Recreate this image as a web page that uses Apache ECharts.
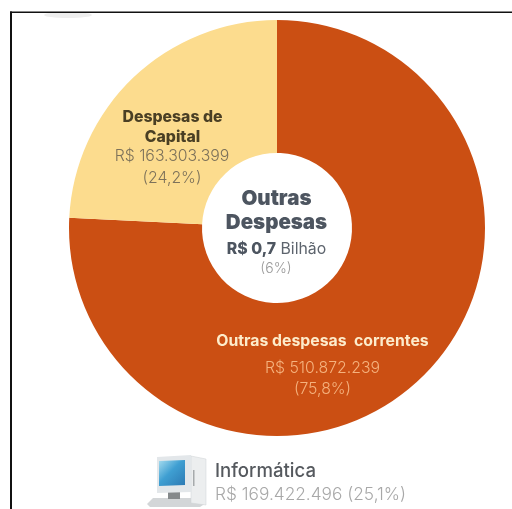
<!DOCTYPE html>
<html>
<head>
<meta charset="utf-8">
<style>
html,body{margin:0;padding:0;background:#fff;overflow:hidden}
#chart{width:512px;height:509px}
</style>
<script src="https://cdn.jsdelivr.net/npm/echarts@6/dist/echarts.min.js"></script>
</head>
<body>
<div id="chart"></div>
<script>
// Composição das outras despesas
const categorias = ['Outras despesas  correntes', 'Despesas de\nCapital'];
const valores = [510872239, 163303399];
const rotulosValor = ['R$ 510.872.239', 'R$ 163.303.399'];
const rotulosPercentual = ['(75,8%)', '(24,2%)'];
const cores = ['#cb4f13', '#fcdc8e'];
const centroTitulo = 'Outras\nDespesas';
const centroValor = 'R$ 0,7';
const centroUnidade = ' Bilhão';
const centroPercentual = '(6%)';
const rodapeTitulo = 'Informática';
const rodapeValor = 'R$ 169.422.496 (25,1%)';

const FONTE = 'Inter, Roboto, sans-serif';
const chart = echarts.init(document.getElementById('chart'), null, { renderer: 'canvas' });

// Ícone de computador desenhado com formas simples
const iconeComputador = [
  { type: 'polygon', shape: { points: [[147, 504], [153, 498], [200, 498], [206, 503], [200, 507], [150, 507]] }, style: { fill: '#d3d6d8' } },
  { type: 'rect', shape: { x: 168, y: 491, width: 12, height: 8 }, style: { fill: '#85898b' } },
  { type: 'polygon', shape: { points: [[191, 456], [206, 459], [206, 505], [191, 503]] }, style: { fill: '#eceeef', stroke: '#cfd2d4', lineWidth: 0.5 } },
  { type: 'rect', shape: { x: 193, y: 470, width: 1.5, height: 16 }, style: { fill: '#a6aaac' } },
  { type: 'polygon', shape: { points: [[157, 457], [191, 455], [191, 492], [157, 493]] }, style: { fill: '#e3e7ea' } },
  {
    type: 'polygon',
    shape: { points: [[159, 461], [185, 460], [185, 485], [159, 486]] },
    style: {
      fill: new echarts.graphic.LinearGradient(0, 0, 1, 1, [
        { offset: 0, color: '#a6dcef' },
        { offset: 0.45, color: '#3f9fd2' },
        { offset: 1, color: '#2c79b3' }
      ])
    }
  }
];

const texto = (x, y, style) => ({
  type: 'text', x, y, z: 10,
  style: Object.assign({ fontFamily: FONTE, align: 'center', verticalAlign: 'middle' }, style)
});

chart.setOption({
  animation: false,
  backgroundColor: '#ffffff',
  series: [{
    type: 'pie',
    center: [277, 228],
    radius: [75, 208],
    startAngle: 90,
    clockwise: true,
    silent: true,
    label: { show: false },
    labelLine: { show: false },
    data: valores.map((v, i) => ({ value: v, name: categorias[i], itemStyle: { color: cores[i] } }))
  }],
  graphic: [
    // Traços do quadro: superior e esquerdo
    { type: 'ellipse', z: 1, shape: { cx: 68, cy: 15, rx: 24, ry: 3 }, style: { fill: '#eeeeee' } },
    { type: 'rect', z: 2, shape: { x: 10, y: 11.5, width: 502, height: 1.5 }, style: { fill: '#111' } },
    { type: 'rect', z: 2, shape: { x: 10, y: 11.5, width: 2, height: 498 }, style: { fill: '#111' } },
    { type: 'group', children: iconeComputador },

    texto(172.5, 127, { text: categorias[1], fontSize: 15.8, fontWeight: 800, fill: '#4a3f24', lineHeight: 20 }),
    texto(172, 156.5, { text: rotulosValor[1], fontSize: 15.8, fontWeight: 300, fill: '#7d725a' }),
    texto(172, 178, { text: rotulosPercentual[1], fontSize: 15.8, fontWeight: 300, fill: '#7d725a' }),

    texto(322.5, 341, { text: categorias[0], fontSize: 15.8, fontWeight: 700, fill: '#fdeccb' }),
    texto(322.5, 368, { text: rotulosValor[0], fontSize: 15.8, fontWeight: 300, fill: '#f5b27e' }),
    texto(322.5, 389, { text: rotulosPercentual[0], fontSize: 15.8, fontWeight: 300, fill: '#f5b27e' }),

    texto(276.5, 211, { text: centroTitulo, fontSize: 20.5, fontWeight: 900, fill: '#4d5560', lineHeight: 24 }),
    texto(276.5, 249, {
      text: `{a|${centroValor}}{b|${centroUnidade}}`,
      rich: {
        a: { fontFamily: FONTE, fontSize: 15.8, fontWeight: 800, fill: '#4d5560' },
        b: { fontFamily: FONTE, fontSize: 15.8, fontWeight: 400, fill: '#5d646d' }
      }
    }),
    texto(276, 269, { text: centroPercentual, fontSize: 14, fontWeight: 300, fill: '#9a9a9a' }),

    texto(215, 471, { text: rodapeTitulo, fontSize: 18.6, fontWeight: 500, fill: '#55595e', align: 'left' }),
    texto(215, 495, { text: rodapeValor, fontSize: 17.3, fontWeight: 300, fill: '#a8a8a8', align: 'left' })
  ]
});
</script>
</body>
</html>
